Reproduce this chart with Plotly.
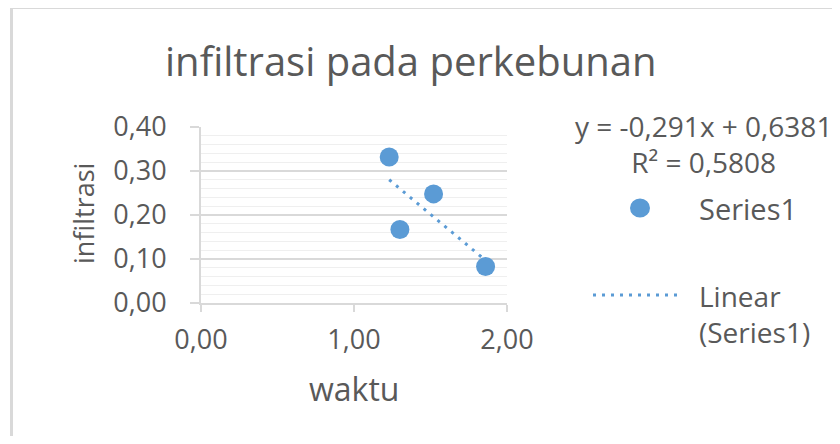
import numpy as np
import plotly.graph_objects as go

# ---- data ----
waktu = [1.23, 1.30, 1.52, 1.86]
infiltrasi = [0.332, 0.167, 0.248, 0.083]
trend_slope = -0.291
trend_intercept = 0.6381
title_text = "infiltrasi pada perkebunan"
x_title = "waktu"
y_title = "infiltrasi"
eq_text = "y = -0,291x + 0,6381"
r2_text = "R² = 0,5808"
series_name = "Series1"
trend_name = "Linear<br>(Series1)"

W, H = 840, 444
OFF = 8                       # page body margin
CW, CH = W - 2 * OFF, H - 2 * OFF
L, R, T, B = 201, 507, 127, 303  # plot area edges in page pixels

def px(p):
    return (p - L) / (R - L)

def py(p):
    return (B - p) / (B - T)

FONT = "Open Sans"
TXT = "#595959"
BLUE = "#5b9bd5"
GRID = "#d9d9d9"

tx = np.array([min(waktu), max(waktu)])
ty = trend_slope * tx + trend_intercept

fig = go.Figure()
fig.add_trace(go.Scatter(
    x=tx, y=ty, mode="lines", name="Linear (Series1)",
    line=dict(color=BLUE, width=3, dash="3px,6px"), showlegend=False,
    hoverinfo="skip"))
fig.add_trace(go.Scatter(
    x=waktu, y=infiltrasi, mode="markers", name=series_name,
    marker=dict(color=BLUE, size=19, line=dict(width=0)), showlegend=False))

fig.update_layout(
    width=CW, height=CH,
    margin=dict(l=L - OFF, r=OFF + CW - R, t=T - OFF, b=OFF + CH - B, pad=0),
    paper_bgcolor="white", plot_bgcolor="white",
    separators=",.",
    font=dict(family=FONT, color=TXT),
    xaxis=dict(range=[0, 2], dtick=1, tickformat=".2f", showgrid=False,
               zeroline=False, showline=True, linecolor=GRID, linewidth=2,
               ticks="outside", ticklen=7, tickcolor=GRID, tickwidth=2,
               tickfont=dict(size=27, color=TXT, family=FONT),
               ticklabelstandoff=5),
    yaxis=dict(range=[0, 0.4], dtick=0.1, tickformat=".2f", showgrid=True,
               gridcolor=GRID, gridwidth=2, zeroline=False, showline=True,
               linecolor=GRID, linewidth=2, ticks="outside", ticklen=9,
               tickcolor=GRID, tickwidth=2,
               tickfont=dict(size=27, color=TXT, family=FONT),
               ticklabelstandoff=18,
               minor=dict(dtick=0.02, showgrid=True, gridcolor="#efefef",
                          gridwidth=1.3, ticks="")),
)

def ann(text, x, y, size, xanchor="center", angle=0, align="center"):
    return dict(text=text, x=px(x), y=py(y), xref="paper", yref="paper",
                xanchor=xanchor, yanchor="middle", textangle=angle,
                align=align, showarrow=False,
                font=dict(size=size, color=TXT, family=FONT))

annotations = [
    ann(title_text, 411, 60, 40),
    ann(x_title, 354, 388, 32),
    ann(y_title, 83, 214, 27, angle=-90),
    ann(eq_text + "<br>" + r2_text, 703, 144, 28),
    ann(series_name, 697, 208, 29, xanchor="left"),
    ann(trend_name, 697, 314, 28, xanchor="left", align="left"),
]
fig.update_layout(annotations=annotations)

shapes = [
    # outer chart border (extends beyond the visible window)
    dict(type="rect", xref="paper", yref="paper",
         x0=px(11.5), x1=px(900), y0=py(7.5), y1=py(520),
         line=dict(color=GRID, width=3), fillcolor="rgba(0,0,0,0)", layer="below"),
    # legend marker
    dict(type="circle", xref="paper", yref="paper", xsizemode="pixel",
         ysizemode="pixel", xanchor=px(640), yanchor=py(208),
         x0=-10, x1=10, y0=-9.5, y1=9.5, fillcolor=BLUE, line=dict(width=0)),
    # legend dotted line
    dict(type="line", xref="paper", yref="paper",
         x0=px(593), x1=px(682), y0=py(295), y1=py(295),
         line=dict(color=BLUE, width=3, dash="3px,6px")),
]
fig.update_layout(shapes=shapes)

fig.write_html("out.html")
